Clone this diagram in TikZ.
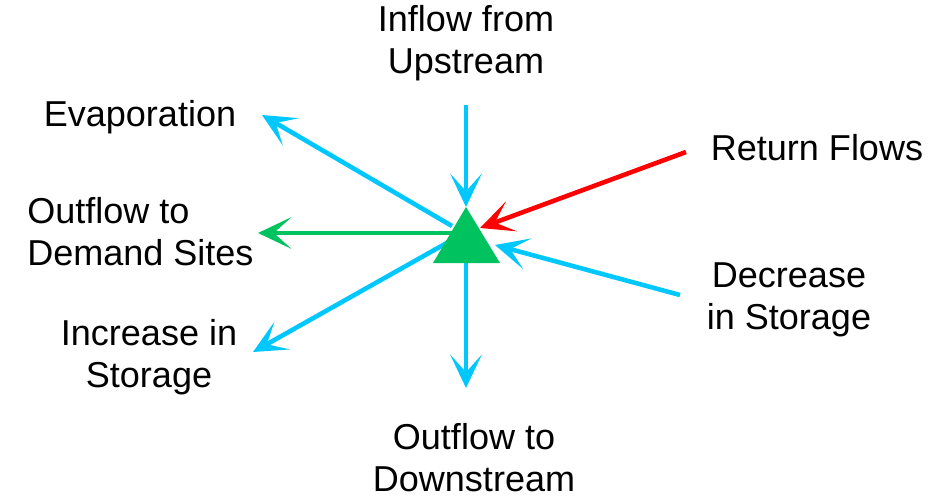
\documentclass[tikz,border=0pt]{standalone}
\usepackage{fontspec}
\setmainfont{Liberation Sans}
\usetikzlibrary{arrows.meta}
\definecolor{flowblue}{RGB}{0,200,255}
\definecolor{flowgreen}{RGB}{0,195,95}
\definecolor{flowred}{RGB}{255,0,0}

\tikzset{
  lbl/.style={font=\fontsize{20.5}{24}\selectfont, inner sep=0pt, align=center},
  flow/.style={line width=2.6pt, -{Stealth[length=19pt,width=18pt,inset=10pt]}},
}

\begin{document}
\begin{tikzpicture}[x=0.02cm,y=-0.02cm]
        \useasboundingbox (0,0) rectangle (929,497);
        % labels
        \node[lbl] (inflow) at (466,43) {Inflow from\\Upstream};
        \node[lbl] (evap) at (140,117) {Evaporation};
        \node[lbl] (ret) at (817,148) {Return Flows};
        \node[lbl,align=left,anchor=west] (demand) at (27,232) {Outflow to\\Demand Sites};
        \node[lbl] (incr) at (149,357) {Increase in\\Storage};
        \node[lbl] (decr) at (789,300) {Decrease\\in Storage};
        \node[lbl] (down) at (474,458) {Outflow to\\Downstream};
        % arrow ends
        \coordinate (inA) at (466,105);  \coordinate (inB) at (466,207);
        \coordinate (retA) at (686,152); \coordinate (retB) at (480,228);
        \coordinate (decA) at (680,295); \coordinate (decB) at (495,245);
        \coordinate (dnA) at (466,262);  \coordinate (dnB) at (466,388);
        \coordinate (evA) at (452,226);  \coordinate (evB) at (262,115);
        \coordinate (deA) at (452,233);  \coordinate (deB) at (258,233);
        \coordinate (icA) at (452,240);  \coordinate (icB) at (253,352);
        % flows
        \draw[flow,flowblue](inA)--(inB);
        \draw[flow,flowred](retA)--(retB);
        \draw[flow,flowblue](decA)--(decB);
        \draw[flow,flowblue](dnA)--(dnB);
        \draw[flow,flowblue](evA)--(evB);
        \draw[flow,flowgreen](deA)--(deB);
        \draw[flow,flowblue](icA)--(icB);
        % node
        \fill[flowgreen](466,207)--(500,263)--(433,263)--cycle;
    \end{tikzpicture}
\end{document}
